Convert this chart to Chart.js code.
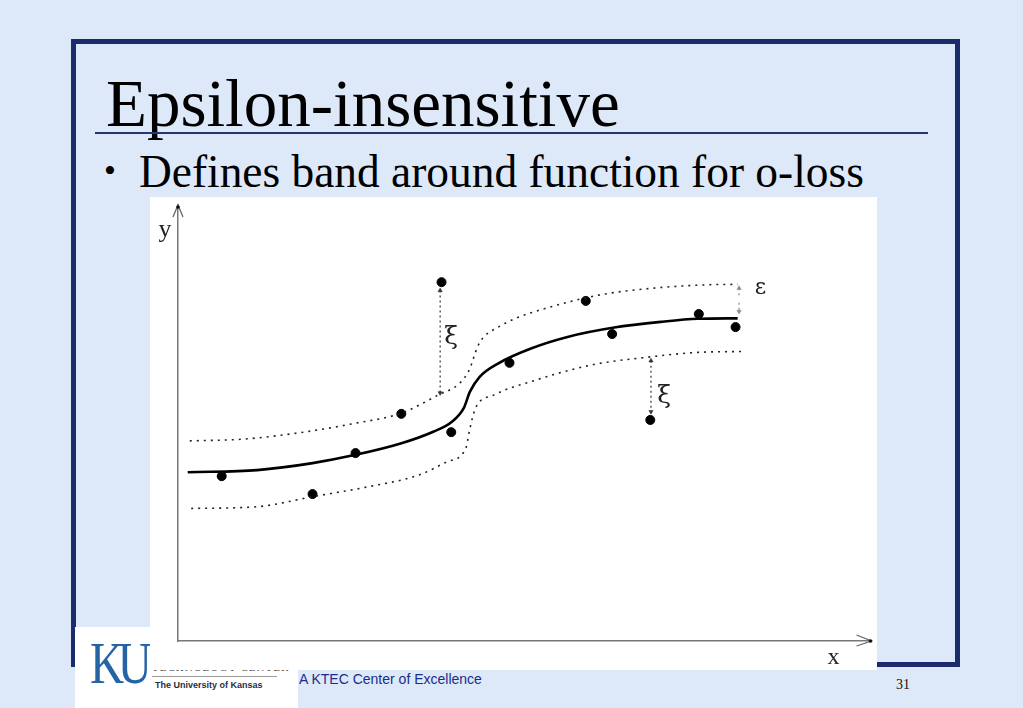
<!DOCTYPE html>
<html>
<head>
<meta charset="utf-8">
<script src="https://cdn.jsdelivr.net/npm/chart.js@4.4.1/dist/chart.umd.min.js"></script>
<style>
  body { margin: 0; width: 1023px; height: 708px; overflow: hidden; background: #dde9f9; position: relative; }
  .frame { position: absolute; left: 71px; top: 39px; width: 879px; height: 618px; border: 5px solid #1b2b6c; }
  .title { position: absolute; left: 106px; top: 65px; font: 67px "Liberation Serif", serif; color: #000; white-space: nowrap; }
  .rule { position: absolute; left: 95px; top: 132px; width: 833px; height: 2px; background: #24386f; }
  .bullet { position: absolute; left: 104px; top: 152px; font: 34px "Liberation Serif", serif; }
  .point { position: absolute; left: 139px; top: 146px; font: 45.4px "Liberation Serif", serif; white-space: nowrap; }
  .logo { position: absolute; left: 75px; top: 627px; width: 223px; height: 81px; background: #fff; }
  .ku { position: absolute; left: 15px; top: 2px; font: 59px "Liberation Serif", serif; color: #2463a4; letter-spacing: -8px; transform: scaleX(0.8); transform-origin: left top; }
  .tech { position: absolute; left: 77px; top: 34px; font: 11px "Liberation Serif", serif; color: #444; letter-spacing: 1px; }
  .tline { position: absolute; left: 77px; top: 49px; width: 125px; height: 1px; background: #9a9a9a; }
  .uni { position: absolute; left: 80px; top: 53px; font: bold 9px "Liberation Sans", sans-serif; color: #2b2d40; }
  .ktec { position: absolute; left: 299px; top: 671px; font: 14px "Liberation Sans", sans-serif; color: #1a2c8c; }
  .page { position: absolute; left: 896px; top: 677px; font: 14px "Liberation Serif", serif; color: #111; }
  .figure { position: absolute; left: 150px; top: 197px; width: 727px; height: 473px; background: #fff; }
</style>
</head>
<body>
<div class="frame"></div>
<div class="title">Epsilon-insensitive</div>
<div class="rule"></div>
<div class="bullet">•</div>
<div class="point">Defines band around function for o-loss</div>
<div class="logo">
  <div class="ku">KU</div>
  <div class="tech">TECHNOLOGY CENTER</div>
  <div class="tline"></div>
  <div class="uni">The University of Kansas</div>
</div>
<div class="ktec">A KTEC Center of Excellence</div>
<div class="page">31</div>
<div class="figure"><canvas id="myChart" width="727" height="473"></canvas></div>

<script>
/* epsilon band sketch (x, y in 0..100 units) */

// fitted function (solid)
const fitX = [1.4, 11.4, 19.4, 25.6, 32.1, 36.8, 39.5, 41.2, 42.1, 43.5, 46.2, 50.9, 56.3, 62.9, 69.6, 75.0, 80.7];
const fitY = [38.7, 39.2, 40.8, 42.7, 45.3, 48.0, 50.3, 53.4, 57.2, 60.6, 63.7, 67.1, 69.8, 71.9, 73.2, 73.9, 74.0];

// +epsilon band (dotted)
const upperX = [1.7, 9.4, 18.1, 25.4, 32.1, 37.5, 40.6, 42.0, 43.2, 43.9, 46.3, 48.7, 53.0, 60.9, 68.3, 76.4, 80.7];
const upperY = [45.9, 46.3, 47.9, 49.9, 52.2, 56.4, 59.1, 62.2, 67.5, 69.4, 72.1, 74.0, 76.3, 79.4, 80.9, 81.7, 81.8];

// -epsilon band (dotted)
const lowerX = [1.9, 11.4, 19.4, 27.5, 34.8, 38.8, 41.5, 42.1, 42.9, 45.5, 50.9, 59.6, 68.3, 75.0, 81.4];
const lowerY = [30.4, 30.8, 33.1, 35.4, 38.1, 41.1, 44.2, 48.8, 53.4, 56.4, 59.5, 63.3, 65.2, 66.2, 66.4];

// samples
const dotX = [6.3, 19.4, 25.6, 32.2, 39.4, 38.0, 47.8, 58.8, 62.6, 68.1, 75.1, 80.4];
const dotY = [37.8, 33.7, 43.1, 52.1, 47.9, 82.3, 63.8, 78.0, 70.4, 50.7, 75.0, 72.0];

// slack / epsilon arrows
const xiUpX = [37.8, 37.8];
const xiUpY = [80.4, 56.9];
const xiDownX = [68.2, 68.2];
const xiDownY = [64.3, 52.6];
const epsTopX = [80.9, 80.9];
const epsTopY = [80.9, 79.2];
const epsBotX = [80.9, 80.9];
const epsBotY = [77.6, 75.6];

// labels next to the arrows
const noteText = ['ξ', 'ξ', 'ε'];
const noteX = [39.4, 70.1, 84.0];
const noteY = [69.7, 56.0, 81.0];

function toPoints(xs, ys) {
    return xs.map((x, i) => ({ x: x, y: ys[i] }));
}

function lineSet(xs, ys, color, width, dash) {
    return {
        data: toPoints(xs, ys),
        showLine: true,
        borderColor: color,
        borderWidth: width,
        borderDash: dash,
        pointRadius: 0,
        cubicInterpolationMode: 'monotone',
        fill: false
    };
}

function arrowSet(xs, ys, color, rot) {
    return {
        data: toPoints(xs, ys),
        showLine: true,
        borderColor: color,
        borderWidth: 1.2,
        borderDash: [2, 3],
        pointStyle: 'triangle',
        pointRadius: rot.map((r) => r === null ? 0 : 2.5),
        pointRotation: rot.map((r) => r === null ? 0 : r),
        pointBackgroundColor: color,
        pointBorderColor: color,
        pointBorderWidth: 0.5
    };
}

// axis arrow heads, axis names and the xi / epsilon marks
const sketchExtras = {
    id: 'sketchExtras',
    afterDraw(chart) {
        const ctx = chart.ctx;
        const xs = chart.scales.x;
        const ys = chart.scales.y;
        const ox = xs.getPixelForValue(0);
        const oy = ys.getPixelForValue(0);
        const top = ys.getPixelForValue(ys.max);
        const right = xs.getPixelForValue(xs.max);
        ctx.save();
        ctx.strokeStyle = '#666';
        ctx.lineWidth = 1.3;
        ctx.beginPath();
        ctx.moveTo(ox - 5, top + 12);
        ctx.lineTo(ox, top);
        ctx.lineTo(ox + 5, top + 12);
        ctx.moveTo(right - 15, oy - 6);
        ctx.lineTo(right, oy);
        ctx.lineTo(right - 15, oy + 5);
        ctx.stroke();
        ctx.fillStyle = '#111';
        ctx.beginPath();
        ctx.arc(ox, top + 2, 1.8, 0, Math.PI * 2);
        ctx.arc(right - 1, oy, 1.8, 0, Math.PI * 2);
        ctx.fill();

        ctx.fillStyle = '#222';
        ctx.textAlign = 'center';
        ctx.textBaseline = 'middle';
        ctx.font = '26px "Liberation Serif", serif';
        ctx.fillText('y', ox - 13, top + 25);
        ctx.font = '24px "Liberation Serif", serif';
        ctx.fillText('x', right - 38, oy + 17);

        noteText.forEach((t, i) => {
            ctx.font = (t === 'ε' ? '22px' : '25px') + ' "DejaVu Serif", serif';
            ctx.fillText(t, xs.getPixelForValue(noteX[i]), ys.getPixelForValue(noteY[i]));
        });
        ctx.restore();
    }
};

function initChart(target) {
    const axis = {
        type: 'linear',
        min: 0,
        max: 100,
        grid: { display: false, drawTicks: false },
        ticks: { display: false },
        border: { display: true, color: '#777', width: 1.5 }
    };
    const chart = new Chart(target, {
        type: 'scatter',
        data: {
            datasets: [
                lineSet(upperX, upperY, '#222', 1.6, [2, 5]),
                lineSet(lowerX, lowerY, '#222', 1.6, [2, 5]),
                lineSet(fitX, fitY, '#000', 2.6, []),
                {
                    data: toPoints(dotX, dotY),
                    pointRadius: 4.5,
                    pointBackgroundColor: '#000',
                    pointBorderColor: '#000',
                    showLine: false
                },
                arrowSet(xiUpX, xiUpY, '#333', [0, 180]),
                arrowSet(xiDownX, xiDownY, '#333', [0, 180]),
                arrowSet(epsTopX, epsTopY, '#888', [0, null]),
                arrowSet(epsBotX, epsBotY, '#888', [null, 180])
            ]
        },
        options: {
            responsive: false,
            animation: false,
            layout: { padding: { left: 28, top: 8, right: 3, bottom: 29 } },
            plugins: { legend: { display: false }, tooltip: { enabled: false } },
            scales: { x: axis, y: axis }
        },
        plugins: [sketchExtras]
    });
    return chart;
}

async function mainEvent() {
    const target = document.querySelector('#myChart');
    initChart(target);
}

document.addEventListener('DOMContentLoaded', async () => mainEvent());
</script>
</body>
</html>
